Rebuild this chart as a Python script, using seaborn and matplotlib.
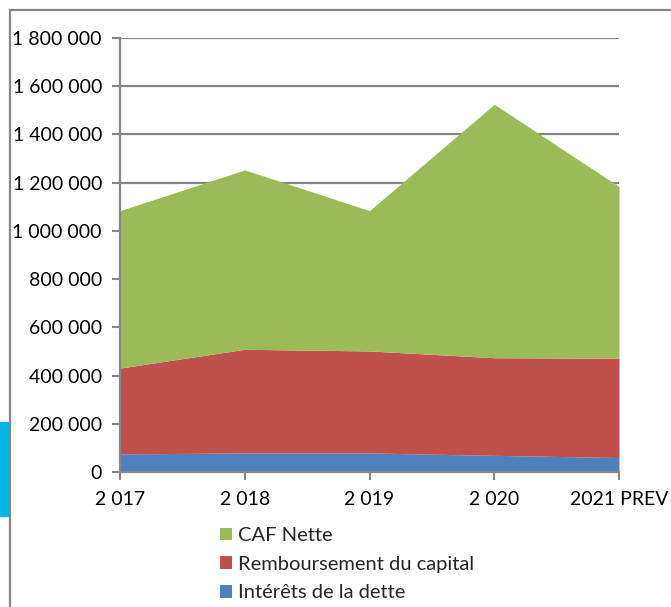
import matplotlib
matplotlib.use("Agg")
import matplotlib.pyplot as plt
import matplotlib.patches as patches
import seaborn as sns

# données
annees = ["2 017", "2 018", "2 019", "2 020", "2021 PREV"]
interets = [75000, 79000, 79000, 69000, 60000]
remboursement = [356000, 430000, 423000, 405000, 412000]
caf_nette = [653000, 744000, 582000, 1051000, 712000]

series = ["Intérêts de la dette", "Remboursement du capital", "CAF Nette"]
couleurs = ["#4F81BD", "#C0504D", "#9BBB59"]
gris = "#868686"

sns.set_theme(style="white")
plt.rcParams["font.family"] = ["Lato", "DejaVu Sans"]

fig = plt.figure(figsize=(6.71, 6.07), dpi=100)
W, H = 671, 607

# cadre du graphique et forme bleue à gauche
fig.patches.append(patches.Rectangle((0, 1 - 516 / H), 8 / W, 94 / H,
                                     transform=fig.transFigure, color="#00B4E6", zorder=0))
fig.patches.append(patches.Rectangle((10 / W, -0.05), 1.2, 1 - 10 / H + 0.05,
                                     transform=fig.transFigure, fill=False,
                                     edgecolor=gris, linewidth=1.6, zorder=1))

ax = fig.add_axes([120 / W, 1 - 472 / H, (619 - 120) / W, (472 - 38) / H])
x = list(range(len(annees)))
ax.stackplot(x, interets, remboursement, caf_nette, colors=couleurs,
             labels=series, zorder=2, linewidth=0)

ax.set_xlim(0, len(annees) - 1)
ax.set_ylim(0, 1800000)
ax.set_yticks(range(0, 1800001, 200000))
ax.set_yticklabels([f"{v:,}".replace(",", " ") for v in range(0, 1800001, 200000)])
ax.set_xticks(x)
ax.set_xticklabels(annees)

ax.yaxis.grid(True, color=gris, linewidth=1.6, zorder=0)
ax.set_axisbelow(True)
for cote in ["top", "right"]:
    ax.spines[cote].set_visible(False)
for cote in ["left", "bottom"]:
    ax.spines[cote].set_color(gris)
    ax.spines[cote].set_linewidth(1.6)
    ax.spines[cote].set_zorder(3)
ax.tick_params(axis="both", colors=gris, length=6, width=1.5, labelcolor="black",
               labelsize=14, bottom=True, left=True)
ax.tick_params(axis="y", pad=7)
ax.tick_params(axis="x", pad=8)

poignees, etiquettes = ax.get_legend_handles_labels()
fig.legend(poignees[::-1], etiquettes[::-1], loc="upper left",
           bbox_to_anchor=(202 / W, 1 - 509 / H), frameon=False, fontsize=14.5,
           handlelength=0.6, handleheight=0.6, handletextpad=0.3, labelspacing=0.58)

fig.savefig("out.png", dpi=100)
